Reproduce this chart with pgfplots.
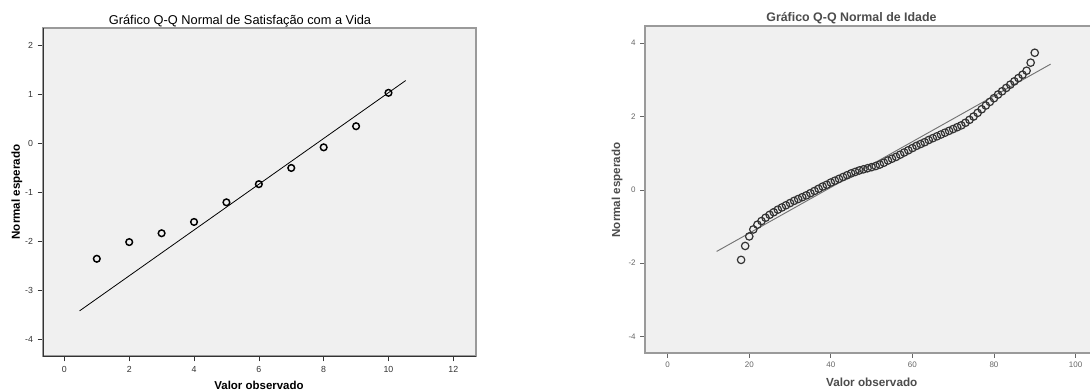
\documentclass[border=0pt]{standalone}
\usepackage{fontspec}
\setmainfont{Liberation Sans}
\usepackage{pgfplots}
\pgfplotsset{compat=1.18}
\definecolor{bgc}{HTML}{F0F0F0}
\definecolor{frm}{HTML}{9A9A9A}
\begin{document}
\begin{tikzpicture}
% ---------------- Left panel ----------------
\begin{axis}[
  at={(32.25pt,25.5pt)}, anchor=south west, scale only axis,
  width=324.75pt, height=246pt,
  xmin=-0.66, xmax=12.70, ymin=-4.33, ymax=2.35,
  xtick={0,2,...,12}, ytick={-4,-3,...,2},
  axis background/.style={fill=bgc},
  axis line style={frm, line width=1.1pt},
  tick align=outside, tick pos=left, major tick length=4pt,
  tick style={black!80, line width=0.5pt},
  ticklabel style={font=\fontsize{6.6}{7}\selectfont, text=black!80},
  /pgf/number format/assume math mode=true,
  after end axis/.code={\draw[black!80, line width=0.7pt] (rel axis cs:0,1) -- (rel axis cs:0,0) -- (rel axis cs:1,0);},
]
\addplot[black, line width=0.6pt] coordinates {(0.47,-3.41) (10.53,1.28)};
\addplot[only marks, mark=o, mark size=2.5pt, mark options={line width=1.1pt, black}] coordinates {
(1,-2.35) (2,-2.01) (3,-1.83) (4,-1.60) (5,-1.20) (6,-0.83) (7,-0.50) (8,-0.08) (9,0.35) (10,1.03)
};
\end{axis}
% ---------------- Right panel ----------------
\begin{axis}[
  at={(483.75pt,27.75pt)}, anchor=south west, scale only axis,
  width=341.25pt, height=245.25pt,
  xmin=-5.56, xmax=106, ymin=-4.45, ymax=4.47,
  xtick={0,20,...,100}, ytick={-4,-2,...,4},
  axis background/.style={fill=bgc},
  axis line style={frm, line width=1.3pt},
  tick align=outside, tick pos=left, major tick length=3.5pt,
  tick style={black!60, line width=0.5pt},
  ticklabel style={font=\fontsize{6}{7}\selectfont, text=black!60},
  /pgf/number format/assume math mode=true,
]
\addplot[black!55, line width=0.7pt] coordinates {(12.0,-1.68) (93.9,3.43)};
\addplot[only marks, mark=o, mark size=2.8pt, mark options={line width=0.9pt, black!80}] coordinates {
(18,-1.91) (19,-1.53) (20,-1.27) (21,-1.08) (22,-0.95) (23,-0.85) (24,-0.76) (25,-0.68)
(26,-0.61) (27,-0.54) (28,-0.48) (29,-0.42) (30,-0.36) (31,-0.30) (32,-0.25) (33,-0.20)
(34,-0.15) (35,-0.09) (36,-0.03) (37,0.03) (38,0.09) (39,0.14) (40,0.20) (41,0.25)
(42,0.30) (43,0.35) (44,0.40) (45,0.45) (46,0.49) (47,0.53) (48,0.56) (49,0.59)
(50,0.62) (51,0.65) (52,0.69) (53,0.74) (54,0.80) (55,0.85) (56,0.90) (57,0.96)
(58,1.02) (59,1.08) (60,1.14) (61,1.20) (62,1.25) (63,1.30) (64,1.36) (65,1.41)
(66,1.46) (67,1.51) (68,1.56) (69,1.61) (70,1.66) (71,1.71) (72,1.76) (73,1.83)
(74,1.91) (75,2.00) (76,2.10) (77,2.20) (78,2.30) (79,2.40) (80,2.50) (81,2.60)
(82,2.69) (83,2.78) (84,2.87) (85,2.96) (86,3.05) (87,3.14) (88,3.25) (89,3.47) (90,3.74)
};
\end{axis}
% ---------------- Texts ----------------
\node[font=\fontsize{9.6}{11}\selectfont] at (180pt,276.75pt) {Gráfico Q-Q Normal de Satisfação com a Vida};
\node[font=\bfseries\fontsize{8.7}{10}\selectfont, rotate=90] at (12.75pt,148.5pt) {Normal esperado};
\node[font=\bfseries\fontsize{8.6}{10}\selectfont, anchor=base] at (194.25pt,0.5pt) {Valor observado};
\node[font=\bfseries\fontsize{9.3}{11}\selectfont, text=black!70] at (638.6pt,279pt) {Gráfico Q-Q Normal de Idade};
\node[font=\bfseries\fontsize{8.7}{10}\selectfont, rotate=90, text=black!70] at (462.75pt,150pt) {Normal esperado};
\node[font=\bfseries\fontsize{8.8}{10}\selectfont, anchor=base, text=black!70] at (653.8pt,3pt) {Valor observado};
\pgfresetboundingbox
\useasboundingbox (0pt,0pt) rectangle (817.5pt,292.5pt);
\end{tikzpicture}
\end{document}
